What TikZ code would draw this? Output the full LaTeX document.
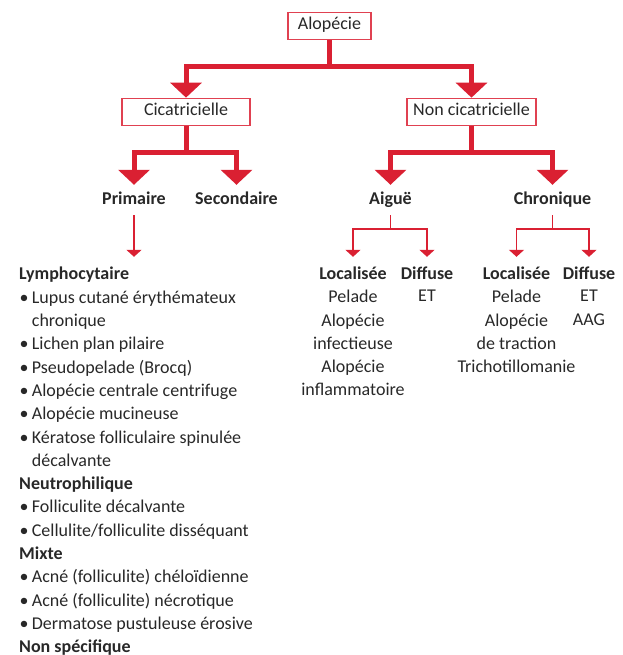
\documentclass[tikz,border=0pt]{standalone}
\usepackage{fontspec}
\setmainfont{Carlito}
\usetikzlibrary{arrows.meta,positioning}
\definecolor{alored}{RGB}{218,32,50}
\definecolor{txtgray}{RGB}{40,40,40}
\newcommand{\itm}{\makebox[12.7pt][l]{\hspace*{0.5pt}\textbullet}}
\newcommand{\ind}{\hspace*{12.7pt}}

\begin{document}
\begin{tikzpicture}[x=1pt,y=-1pt,
   txt/.style={text=txtgray,font=\fontsize{18}{23.3}\selectfont},
   catbox/.style={txt,rectangle,draw=alored!85,line width=1.3pt,fill=white,
    minimum height=27pt,inner xsep=2pt,text height=12pt,text depth=4pt},
   cat/.style={txt,inner xsep=2pt,inner ysep=7pt,text height=12pt,
    text depth=4pt,anchor=base,font=\fontsize{18}{23.3}\selectfont\bfseries},
   subcat/.style={cat,inner ysep=10pt},
   sublist/.style={txt,align=center,inner sep=0pt},
   bigarrow/.style={draw=alored,line width=5pt,
    -{Triangle[width=31pt,length=15pt]}},
   smallarrow/.style={draw=alored,line width=1.8pt,
    -{Triangle[width=15pt,length=7pt]}}
    ]
  \clip (0,0) rectangle (622,655);

  % -- boxes
  \node[catbox,minimum width=83pt] at (329.5,26) (alop) {Alopécie};
  \node[catbox,minimum width=128pt] at (186,111.8) (cic) {Cicatricielle};
  \node[catbox,minimum width=129pt] at (471.5,111.8) (noncic) {Non cicatricielle};

  % -- second level
  \node[cat] at (134,204) (prim) {Primaire};
  \node[cat] at (236.5,204) (sec) {Secondaire};
  \node[cat] at (390.5,204) (aig) {Aiguë};
  \node[cat] at (552.5,204) (chro) {Chronique};

  % -- third level
  \node[subcat] at (353,279) (locA) {Localisée};
  \node[subcat] at (427,279) (difA) {Diffuse};
  \node[subcat] at (516.5,279) (locC) {Localisée};
  \node[subcat] at (589,279) (difC) {Diffuse};

  \node[sublist,below=11pt of locA.base] (locAlist)
    {Pelade\\Alopécie\\infectieuse\\Alopécie\\inflammatoire};
  \node[sublist,below=11pt of difA.base] (difAlist) {ET};
  \node[sublist,below=11pt of locC.base] (locClist)
    {Pelade\\Alopécie\\de traction\\Trichotillomanie};
  \node[sublist,below=11pt of difC.base] (difClist) {ET\\AAG};

  % -- left list
  \node[subcat,anchor=base west,inner xsep=0pt] at (19,279) (lymph)
    {Lymphocytaire};
  \node[txt,align=left,inner sep=0pt,below right=11.5pt and 0pt of lymph.base west] (primlist)
    {\itm Lupus cutané érythémateux\\
     \ind chronique\\
     \itm Lichen plan pilaire\\
     \itm Pseudopelade (Brocq)\\
     \itm Alopécie centrale centrifuge\\
     \itm Alopécie mucineuse\\
     \itm Kératose folliculaire spinulée\\
     \ind décalvante\\
     \textbf{Neutrophilique}\\
     \itm Folliculite décalvante\\
     \itm Cellulite/folliculite disséquant\\
     \textbf{Mixte}\\
     \itm Acné (folliculite) chéloïdienne\\
     \itm Acné (folliculite) nécrotique\\
     \itm Dermatose pustuleuse érosive\\
     \textbf{Non spécifique}};

  % -- arrows
  \draw[bigarrow] (alop.south) -- ++(0,26) -| (cic.north);
  \draw[bigarrow] (alop.south) -- ++(0,26) -| (noncic.north);
  \draw[bigarrow] (cic.south) -- ++(0,26.5) -| (prim.north);
  \draw[bigarrow] (cic.south) -- ++(0,26.5) -| (sec.north);
  \draw[bigarrow] (noncic.south) -- ++(0,26.5) -| (aig.north);
  \draw[bigarrow] (noncic.south) -- ++(0,26.5) -| (chro.north);
  \draw[smallarrow] (aig.south) -- ++(0,14) -| (locA.north);
  \draw[smallarrow] (aig.south) -- ++(0,14) -| (difA.north);
  \draw[smallarrow] (chro.south) -- ++(0,14) -| (locC.north);
  \draw[smallarrow] (chro.south) -- ++(0,14) -| (difC.north);
  \draw[smallarrow] (prim.south) -- (prim.south |- lymph.north);

\end{tikzpicture}
\end{document}
